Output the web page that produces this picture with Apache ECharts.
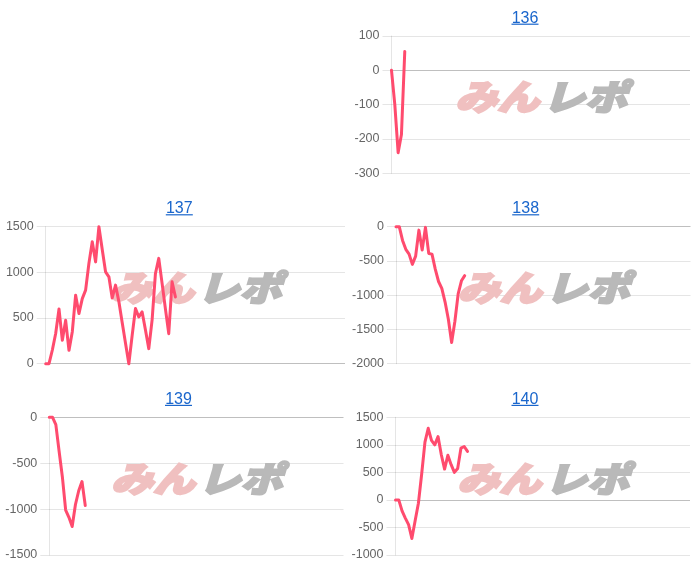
<!DOCTYPE html>
<html>
<head>
<meta charset="utf-8">
<script src="https://cdn.jsdelivr.net/npm/echarts@6/dist/echarts.min.js"></script>
<style>
html,body{margin:0;padding:0;background:#fff;}
#c{width:700px;height:573px;}
</style>
</head>
<body>
<div id="c"></div>
<script>
// ---- data ----
const categories = Array.from({length: 91}, (_, i) => String(i + 1));
const titles = ['136', '137', '138', '139', '140'];

const values136 = [0, -100, -240, -187, 55];
const values137 = [0, 0, 150, 330, 600, 256, 475, 146, 350, 750, 549, 713, 805, 1100, 1335, 1115, 1500, 1250, 1006, 951, 720, 860, 680, 450, 225, 0, 310, 604, 512, 567, 370, 165, 480, 988, 1153, 880, 600, 329, 896, 731];
const values138 = [0, 0, -200, -330, -400, -550, -430, -50, -340, -10, -390, -400, -620, -800, -900, -1100, -1350, -1690, -1380, -980, -790, -715];
const values139 = [0, 0, -80, -370, -650, -1010, -1090, -1190, -950, -800, -700, -960];
const values140 = [0, 0, -200, -330, -450, -700, -380, -60, 470, 1050, 1300, 1080, 1000, 1150, 820, 560, 810, 640, 500, 570, 940, 970, 880];

const ticks136 = [-300, -200, -100, 0, 100];
const ticks137 = [0, 500, 1000, 1500];
const ticks138 = [-2000, -1500, -1000, -500, 0];
const ticks139 = [-1500, -1000, -500, 0];
const ticks140 = [-1000, -500, 0, 500, 1000, 1500];

const seriesValues = [values136, values137, values138, values139, values140];
const tickSets = [ticks136, ticks137, ticks138, ticks139, ticks140];

// ---- layout (pixels) ----
const layout = [
  {left: 391.5, top: 36,    right: 690,   bottom: 173.3, tx: 525,   ty: 18.2},
  {left: 45.7,  top: 226.7, right: 345,   bottom: 363.7, tx: 179.3, ty: 208.8},
  {left: 396,   top: 226.7, right: 690.5, bottom: 363.7, tx: 525.7, ty: 208.8},
  {left: 49.3,  top: 417.3, right: 343.5, bottom: 555,   tx: 178.5, ty: 399.4},
  {left: 395.5, top: 417.3, right: 690,   bottom: 555,   tx: 525,   ty: 399.4}
];

const LINE = '#ff4b6e';
const GRID = 'rgba(0,0,0,0.1)';
const ZERO = 'rgba(0,0,0,0.25)';
const FONT = '"Helvetica Neue", Helvetica, Arial, "Liberation Sans", sans-serif';
const LINK = '#1a66cc';
const WM_FONT = 'italic 900 35px "Noto Sans CJK JP", sans-serif';
const WM_PINK = '#f0c0c0';
const WM_GRAY = '#b9b9b9';

const grids = [], xAxes = [], yAxes = [], series = [], graphics = [];

layout.forEach((L, i) => {
  grids.push({
    left: L.left, top: L.top, width: L.right - L.left, height: L.bottom - L.top,
    containLabel: false, outerBoundsMode: 'none'
  });
  xAxes.push({
    type: 'category', gridIndex: i, data: categories, boundaryGap: false,
    axisLine: {show: false}, axisTick: {show: false}, axisLabel: {show: false}, splitLine: {show: false}
  });
  const t = tickSets[i];
  yAxes.push({
    type: 'value', gridIndex: i, min: t[0], max: t[t.length - 1], interval: t[1] - t[0],
    axisLine: {show: true, lineStyle: {color: GRID, width: 1}},
    axisTick: {show: true, length: 9, lineStyle: {color: GRID, width: 1}},
    axisLabel: {color: '#666', fontSize: 12.5, fontFamily: FONT, margin: 12, formatter: v => String(v)},
    splitLine: {show: true, lineStyle: {color: t.map(v => v === 0 ? ZERO : GRID), width: 1}}
  });
  series.push({
    type: 'line', xAxisIndex: i, yAxisIndex: i, data: seriesValues[i],
    showSymbol: false, symbol: 'none', clip: false, smooth: false,
    lineStyle: {color: LINE, width: 3, join: 'round', cap: 'round'}, z: 3
  });

  // watermark
  const cx = (L.left + L.right) / 2 + 1, cy = L.top + 61;
  graphics.push({
    type: 'text', x: cx, y: cy, scaleX: 1.2, z: 1, silent: true,
    style: {text: 'みん', x: -2, y: 0, font: WM_FONT, fill: WM_PINK, stroke: WM_PINK, lineWidth: 2.2,
            align: 'right', verticalAlign: 'middle'}
  });
  graphics.push({
    type: 'text', x: cx, y: cy, scaleX: 1.2, z: 1, silent: true,
    style: {text: 'レポ', x: 1, y: 0, font: WM_FONT, fill: WM_GRAY, stroke: WM_GRAY, lineWidth: 2.2,
            align: 'left', verticalAlign: 'middle'}
  });
  // title link
  graphics.push({
    type: 'text', x: L.tx, y: L.ty, z: 5, silent: true,
    style: {text: titles[i], fill: LINK, font: '16px ' + FONT, align: 'center', verticalAlign: 'middle'}
  });
  graphics.push({
    type: 'line', z: 5, silent: true,
    shape: {x1: L.tx - 13.5, y1: L.ty + 6, x2: L.tx + 13.5, y2: L.ty + 6},
    style: {stroke: LINK, lineWidth: 1.2}
  });
});

const chart = echarts.init(document.getElementById('c'), null, {renderer: 'canvas'});
chart.setOption({
  backgroundColor: '#fff',
  animation: false,
  grid: grids,
  xAxis: xAxes,
  yAxis: yAxes,
  series: series,
  graphic: graphics
});
</script>
</body>
</html>
